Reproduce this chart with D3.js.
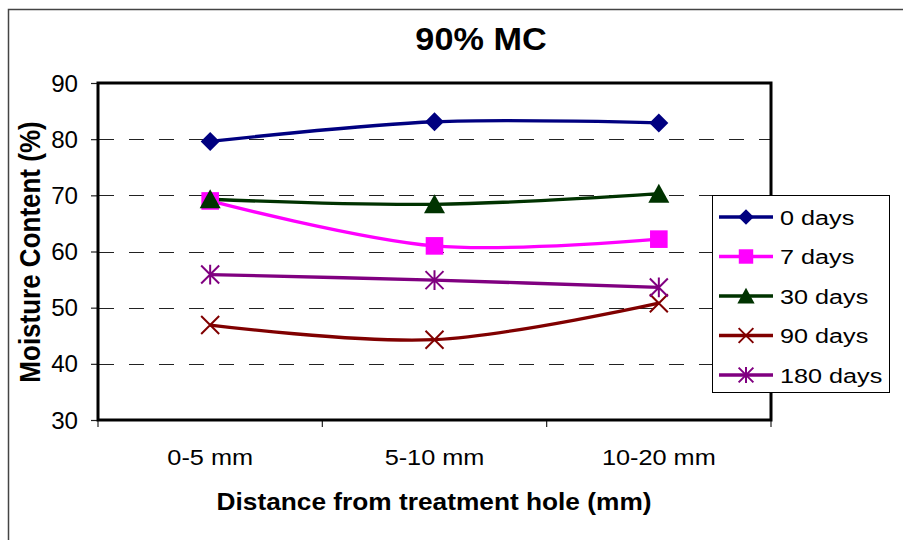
<!DOCTYPE html>
<html>
<head>
<meta charset="utf-8">
<script src="https://cdn.jsdelivr.net/npm/d3@7"></script>
<style>
  body { margin: 0; background: #fff; }
  svg { display: block; font-family: "Liberation Sans", Arial, sans-serif; }
</style>
</head>
<body>
<div id="chart"></div>
<script>
// values
var categories = ["0-5 mm", "5-10 mm", "10-20 mm"];
var seriesNames = ["0 days", "7 days", "30 days", "90 days", "180 days"];
var days0 = [79.6, 83.1, 82.9];
var days7 = [69.0, 61.0, 62.2];
var days30 = [69.3, 68.4, 70.3];
var days90 = [46.9, 44.3, 50.8];
var days180 = [55.9, 54.9, 53.6];
var yTicks = [30, 40, 50, 60, 70, 80, 90];
var gridTicks = [40, 50, 60, 70, 80];

var colors = ["#000080", "#ff00ff", "#003300", "#800000", "#800080"];
var markers = ["diamond", "square", "triangle", "cross", "star"];
var seriesValues = [days0, days7, days30, days90, days180];

var series = seriesNames.map(function (name, i) {
    return {
        name: name,
        color: colors[i],
        marker: markers[i],
        values: seriesValues[i].map(function (v, j) { return { cat: categories[j], value: v }; })
    };
});

var width = 903, height = 540;
var svg = d3.select('#chart')
    .append('svg')
    .attr('width', width)
    .attr('height', height);

// outer chart border
svg.append('rect')
    .attr('x', 8.5).attr('y', 9.5)
    .attr('width', 920).attr('height', 560)
    .attr('fill', 'none')
    .attr('stroke', '#444')
    .attr('stroke-width', 1.5);

var x = d3.scaleBand().domain(categories).range([98, 771]).padding(0);
var y = d3.scaleLinear().domain([30, 90]).range([420, 83]);

// text helper, glyphs in the picture are a bit wider than tall
function label(g, px, py, str, size, sx, opts) {
    opts = opts || {};
    return g.append('text')
        .attr('transform', 'translate(' + px + ',' + py + ') scale(' + sx + ',1)' + (opts.rotate ? ' rotate(' + opts.rotate + ')' : ''))
        .attr('text-anchor', opts.anchor || 'middle')
        .attr('font-size', size)
        .attr('font-weight', opts.bold ? 'bold' : 'normal')
        .attr('fill', '#000')
        .text(str);
}

// gridlines
svg.append('g')
    .selectAll('line')
    .data(gridTicks)
    .enter()
    .append('line')
    .attr('x1', 99).attr('x2', 770)
    .attr('y1', function (d) { return Math.round(y(d)) + 0.5; })
    .attr('y2', function (d) { return Math.round(y(d)) + 0.5; })
    .attr('stroke', '#222')
    .attr('stroke-width', 1)
    .attr('stroke-dasharray', '15,15');

// y axis ticks + labels
var yAxis = d3.axisLeft(y).tickValues(yTicks).tickSize(7).tickFormat('');
svg.append('g')
    .attr('transform', 'translate(98,0)')
    .call(yAxis)
    .call(function (g) { g.select('.domain').remove(); })
    .selectAll('line').attr('stroke', '#222').attr('stroke-width', 1.2);

var yLabels = svg.append('g');
yTicks.forEach(function (t) {
    label(yLabels, 78, y(t) + 8.5, String(t), 23, 1.05, { anchor: 'end' });
});

// x axis ticks at band edges
var xEdges = categories.map(function (c) { return x(c); }).concat([x.range()[1]]);
svg.append('g')
    .selectAll('line')
    .data(xEdges)
    .enter()
    .append('line')
    .attr('x1', function (d) { return d; })
    .attr('x2', function (d) { return d; })
    .attr('y1', 420).attr('y2', 427)
    .attr('stroke', '#222')
    .attr('stroke-width', 1.2);

var xLabels = svg.append('g');
categories.forEach(function (c) {
    label(xLabels, x(c) + x.bandwidth() / 2, 465, c, 22, 1.15);
});

// plot frame
svg.append('rect')
    .attr('x', 98).attr('y', 83)
    .attr('width', 673).attr('height', 337)
    .attr('fill', 'none')
    .attr('stroke', '#000')
    .attr('stroke-width', 3);

// titles
label(svg, 481, 50, '90% MC', 32, 1.07, { bold: true });
label(svg, 434, 510, 'Distance from treatment hole (mm)', 24, 1.095, { bold: true });
label(svg, 40, 252, 'Moisture Content (%)', 26, 1.17, { bold: true, rotate: -90 });

// marker drawing
function drawMarker(g, type, color, k) {
    k = k || 1;
    if (type === 'diamond') {
        var r = 9.5 * k;
        g.append('path').attr('d', 'M0,' + (-r) + 'L' + r + ',0L0,' + r + 'L' + (-r) + ',0Z').attr('fill', color);
    } else if (type === 'square') {
        var s = 8.8 * k;
        g.append('rect').attr('x', -s).attr('y', -s).attr('width', 2 * s).attr('height', 2 * s).attr('fill', color);
    } else if (type === 'triangle') {
        var w = 10.5 * k, h = 10 * k;
        g.append('path').attr('d', 'M0,' + (-h) + 'L' + w + ',' + h * 0.9 + 'L' + (-w) + ',' + h * 0.9 + 'Z').attr('fill', color);
    } else if (type === 'cross') {
        var c = 9 * k;
        g.append('path').attr('d', 'M' + (-c) + ',' + (-c) + 'L' + c + ',' + c + 'M' + c + ',' + (-c) + 'L' + (-c) + ',' + c)
            .attr('stroke', color).attr('stroke-width', 2).attr('fill', 'none');
    } else if (type === 'star') {
        var a = 9 * k;
        g.append('path').attr('d', 'M' + (-a) + ',' + (-a) + 'L' + a + ',' + a + 'M' + a + ',' + (-a) + 'L' + (-a) + ',' + a + 'M0,' + (-a * 1.1) + 'L0,' + (a * 1.1))
            .attr('stroke', color).attr('stroke-width', 2).attr('fill', 'none');
    }
}

// series lines (smoothed like the original)
var line = d3.line()
    .x(function (d) { return x(d.cat) + x.bandwidth() / 2; })
    .y(function (d) { return y(d.value); })
    .curve(d3.curveCatmullRom.alpha(0));

var seriesLayer = svg.append('g');
series.forEach(function (s) {
    seriesLayer.append('path')
        .datum(s.values)
        .attr('d', line)
        .attr('fill', 'none')
        .attr('stroke', s.color)
        .attr('stroke-width', 3.3);
});
series.forEach(function (s) {
    s.values.forEach(function (d) {
        var g = seriesLayer.append('g')
            .attr('transform', 'translate(' + (x(d.cat) + x.bandwidth() / 2) + ',' + y(d.value) + ')');
        drawMarker(g, s.marker, s.color, 1);
    });
});

// legend
var legend = svg.append('g');
legend.append('rect')
    .attr('x', 712.5).attr('y', 195.5)
    .attr('width', 177).attr('height', 197)
    .attr('fill', '#fff')
    .attr('stroke', '#000')
    .attr('stroke-width', 1);

var legendY = d3.scalePoint().domain(seriesNames).range([217, 375]);
series.forEach(function (s) {
    var ly = legendY(s.name);
    legend.append('line')
        .attr('x1', 719).attr('x2', 773)
        .attr('y1', ly).attr('y2', ly)
        .attr('stroke', s.color)
        .attr('stroke-width', 3.3);
    var g = legend.append('g').attr('transform', 'translate(746,' + ly + ')');
    drawMarker(g, s.marker, s.color, 0.82);
    label(legend, 780, ly + 7.5, s.name, 21, 1.2, { anchor: 'start' });
});
</script>
</body>
</html>
